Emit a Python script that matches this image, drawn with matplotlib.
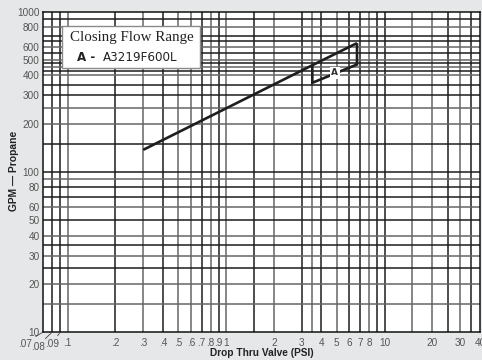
import matplotlib
matplotlib.use("Agg")
import matplotlib.pyplot as plt
from matplotlib.patches import Rectangle, Polygon

# ---- data ----
upper_x = [0.3, 3.5, 6.7]
upper_y = [137, 462, 635]
region_a_x = [3.5, 3.5, 6.7, 6.7]
region_a_y = [462, 359, 467, 635]
region_label = "A"
a_label_x, a_label_y = 4.85, 415

x_ticks = [0.1, 0.2, 0.3, 0.4, 0.5, 0.6, 0.7, 0.8, 0.9, 1, 2, 3, 4, 5, 6, 7, 8, 10, 20, 30, 40]
x_ticklabels = ['.1', '.2', '.3', '.4', '.5', '.6', '.7', '.8', '.9', '1',
                '2', '3', '4', '5', '6', '7', '8', '10', '20', '30', '40']
x_small_ticks = [0.07, 0.08, 0.09]
x_small_labels = ['.07', '.08', '.09']
y_ticks = [10, 20, 30, 40, 50, 60, 80, 100, 200, 300, 400, 500, 600, 800, 1000]
y_ticklabels = ['10', '20', '30', '40', '50', '60', '80', '100', '200', '300',
                '400', '500', '600', '800', '1000']

DARK, GRAY = '#1c1c1c', '#666666'
v_grid = [(0.08, DARK), (0.09, DARK), (0.1, GRAY), (0.2, DARK), (0.3, GRAY), (0.4, DARK),
          (0.5, GRAY), (0.6, GRAY), (0.7, DARK), (0.8, GRAY), (0.9, DARK), (1, GRAY),
          (1.5, DARK), (2, GRAY), (3, DARK), (3.5, GRAY), (4, DARK), (5, GRAY), (6, DARK),
          (7, DARK), (8, GRAY), (9, DARK), (10, DARK), (15, GRAY), (20, GRAY), (25, DARK),
          (30, GRAY), (35, DARK)]
h_grid = [(15, GRAY), (20, GRAY), (25, DARK), (30, GRAY), (35, DARK), (40, GRAY), (50, DARK),
          (60, GRAY), (70, DARK), (80, DARK), (90, GRAY), (100, DARK), (150, DARK),
          (200, GRAY), (250, GRAY), (300, DARK), (350, DARK), (400, GRAY), (425, DARK),
          (450, GRAY), (475, DARK), (500, GRAY), (550, DARK), (600, GRAY), (650, DARK),
          (700, DARK), (800, GRAY), (900, DARK)]

fig = plt.figure(figsize=(4.82, 3.6), dpi=100)
fig.patch.set_facecolor('#e6e7e9')
ax = fig.add_axes([43 / 482, 1 - 332 / 360, 437 / 482, 320.5 / 360])
ax.set_facecolor('white')
ax.set_xscale('log')
ax.set_yscale('log')
ax.set_xlim(0.07, 40)
ax.set_ylim(10, 1000)

for v, c in v_grid:
    ax.axvline(v, color=c, lw=1.1, zorder=1)
for v, c in h_grid:
    ax.axhline(v, color=c, lw=1.1, zorder=1)

for s in ax.spines.values():
    s.set_color('#111111')
    s.set_linewidth(1.1)

ax.minorticks_off()
ax.set_xticks(x_ticks)
ax.set_xticklabels(x_ticklabels)
ax.set_yticks(y_ticks)
ax.set_yticklabels(y_ticklabels)
ax.minorticks_off()
ax.tick_params(axis='x', length=0, pad=4.5, labelsize=7.2, labelcolor='#555555')
ax.tick_params(axis='y', length=0, pad=2.5, labelsize=7.2, labelcolor='#555555')
for lab in ax.get_xticklabels() + ax.get_yticklabels():
    lab.set_family('Liberation Sans')

offsets = [(-12.6, -8.4, (1.0, 1.0)), (-10.4, -10.8, (0.8, 1.0)), (-5.6, -8.6, (0.7, 1.0))]
for v, lab, (dx, dy, rp) in zip(x_small_ticks, x_small_labels, offsets):
    ax.annotate(lab, xy=(v, 10), xycoords='data', xytext=(dx, dy), textcoords='offset points',
                ha='center', va='center', fontsize=7.2, color='#555555',
                family='Liberation Sans', annotation_clip=False,
                arrowprops=dict(arrowstyle='-', color='#444444', lw=0.6, relpos=rp,
                                shrinkA=0.5, shrinkB=1.0))

ax.plot(upper_x, upper_y, color='#1e1e1e', lw=1.9, zorder=3, solid_capstyle='butt')
poly = Polygon(list(zip(region_a_x, region_a_y)), closed=False, fill=False,
               edgecolor='#1e1e1e', lw=1.9, zorder=3)
ax.add_patch(poly)
ax.text(a_label_x, a_label_y, region_label, fontsize=6.5, fontweight='bold', color='#333333',
        ha='center', va='center', family='DejaVu Sans', zorder=4,
        bbox=dict(boxstyle='square,pad=0.15', fc='white', ec='none'))

box = Rectangle((0.0428, 0.8247), 0.3162, 0.1303, transform=ax.transAxes,
                facecolor='white', edgecolor='#8a8a8a', lw=1.0, zorder=4)
ax.add_patch(box)
ax.text(0.2025, 0.920, 'Closing Flow Range', transform=ax.transAxes, ha='center', va='center',
        fontsize=10.8, family='Liberation Serif', color='#222222', zorder=5)
ax.text(0.078, 0.857, 'A - ', transform=ax.transAxes, ha='left', va='center',
        fontsize=8.6, fontweight='bold', family='DejaVu Sans', color='#222222', zorder=5)
ax.text(0.137, 0.857, 'A3219F600L', transform=ax.transAxes, ha='left', va='center',
        fontsize=8.6, family='DejaVu Sans', color='#222222', zorder=5)

fig.text(262 / 482, 1 - 353 / 360, 'Drop Thru Valve (PSI)', ha='center', va='center',
         fontsize=7.3, fontweight='bold', family='Liberation Sans', color='#222222')
fig.text(14 / 482, 1 - 171 / 360, 'GPM — Propane', ha='center', va='center', rotation=90,
         fontsize=7.4, fontweight='bold', family='Liberation Sans', color='#222222')

fig.savefig('out.png', dpi=100, facecolor=fig.get_facecolor())
